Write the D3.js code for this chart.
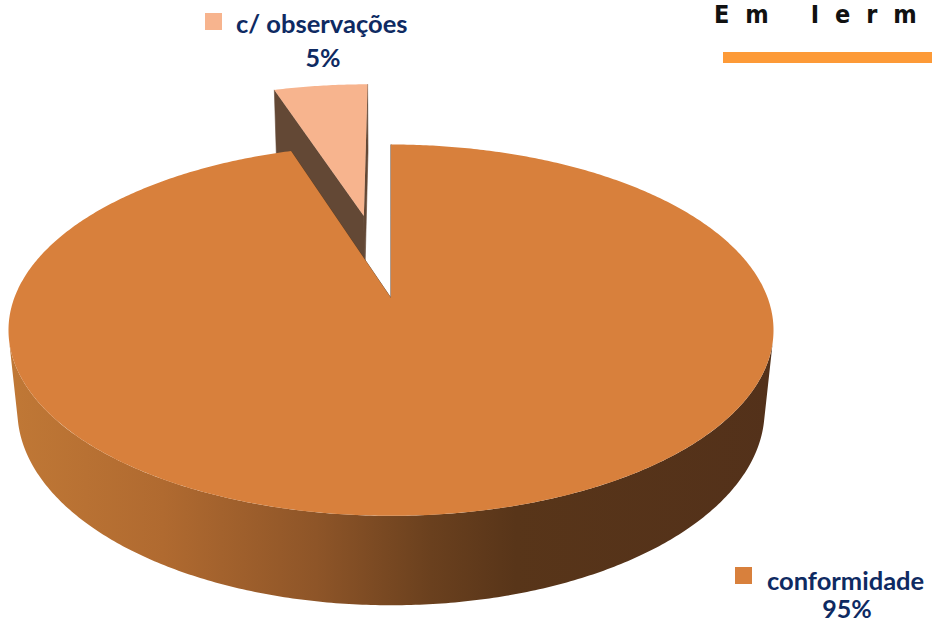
<!DOCTYPE html>
<html>
<head>
<meta charset="utf-8">
<script src="https://cdn.jsdelivr.net/npm/d3@7"></script>
<style>
  html, body { margin: 0; padding: 0; background: #ffffff; }
  svg { display: block; }
</style>
</head>
<body>
<svg id="chart" width="932" height="623"></svg>
<script>
// Share of results
const categories = ["conformidade", "c/ observações"];
const values = [95, 5];
const valueLabels = ["95%", "5%"];

// Per-slice styling
const topColors = ["#D8803C", "#F7B48E"];
const faceColors = ["#5E3A1E", "#634835"];
const explode = [0, 0.5];

const W = 932, H = 623;
const svg = d3.select("#chart");

// Simple perspective camera looking down on a disc of radius 1
const cam = { f: 1910, d: 5.07, sinA: 0.478, cx: 391, cy: 298 };
cam.cosA = Math.sqrt(1 - cam.sinA * cam.sinA);
const thickness = 0.245;

function project(X, Y, Z) {
  const yc = Y * cam.cosA - Z * cam.sinA;
  const zc = cam.d - (Y * cam.sinA + Z * cam.cosA);
  return [cam.cx + cam.f * X / zc, cam.cy - cam.f * yc / zc];
}

// angle 0 = far side of the disc, increasing clockwise as seen from above
function rim(a, r, off, Y) {
  return project(off[0] + r * Math.sin(a), Y, off[1] - r * Math.cos(a));
}

function arcPoints(a0, a1, off, Y) {
  const n = Math.max(2, Math.ceil(Math.abs(a1 - a0) / 0.01));
  return d3.range(n + 1).map(i => rim(a0 + (a1 - a0) * i / n, 1, off, Y));
}

const pie = d3.pie().sort(null).value(d => d)(values);
const line = d3.line();

// The outer wall faces the camera for this range of angles
const visLimit = Math.acos(-1 / (cam.d * cam.cosA));
const vis0 = visLimit, vis1 = 2 * Math.PI - visLimit;

// Horizontal shading of the outer wall
const defs = svg.append("defs");
const grad = defs.append("linearGradient")
  .attr("id", "wall").attr("gradientUnits", "userSpaceOnUse")
  .attr("x1", 10).attr("x2", 776).attr("y1", 0).attr("y2", 0);
[["0%", "#C07836"], ["20%", "#B06A30"], ["40%", "#8E5528"], ["55%", "#6A401E"],
 ["66%", "#583519"], ["100%", "#53311A"]].forEach(([o, c]) =>
  grad.append("stop").attr("offset", o).attr("stop-color", c));

const slices = pie.map((p, i) => {
  const mid = (p.startAngle + p.endAngle) / 2;
  return {
    p, i,
    off: [explode[i] * Math.sin(mid), -explode[i] * Math.cos(mid)]
  };
});

// Draw the exploded (farther) slice first, then the main one
const order = slices.slice().sort((a, b) => b.i - a.i);
const g = svg.append("g");

order.forEach(s => {
  const { p, i, off } = s;
  const gs = g.append("g");
  const apexTop = project(off[0], 0, off[1]);
  const apexBot = project(off[0], -thickness, off[1]);

  // radial cut faces
  [p.startAngle, p.endAngle].forEach(a => {
    const t = rim(a, 1, off, 0), b = rim(a, 1, off, -thickness);
    gs.append("path")
      .attr("d", line([apexTop, t, b, apexBot]) + "Z")
      .attr("fill", faceColors[i])
      .attr("stroke", faceColors[i]).attr("stroke-width", 0.6);
  });

  // outer wall (visible part only)
  const w0 = Math.max(p.startAngle, vis0), w1 = Math.min(p.endAngle, vis1);
  if (w1 > w0) {
    const topArc = arcPoints(w0, w1, off, 0);
    const botArc = arcPoints(w0, w1, off, -thickness).reverse();
    gs.append("path")
      .attr("d", line(topArc.concat(botArc)) + "Z")
      .attr("fill", "url(#wall)");
  }

  // top face
  const topPts = [apexTop].concat(arcPoints(p.startAngle, p.endAngle, off, 0));
  gs.append("path")
    .attr("d", line(topPts) + "Z")
    .attr("fill", topColors[i]);
});

// Labels with colour keys
const labelPos = [
  { key: [735, 567], text: [767, 590], pct: [847, 618] },
  { key: [205, 13], text: [236, 33], pct: [323, 67] }
];
const font = "Lato, 'Open Sans', sans-serif";
categories.forEach((c, i) => {
  const lp = labelPos[i];
  svg.append("rect").attr("x", lp.key[0]).attr("y", lp.key[1])
    .attr("width", 17).attr("height", 17).attr("fill", topColors[i]);
  svg.append("text").attr("x", lp.text[0]).attr("y", lp.text[1])
    .attr("font-family", font).attr("font-weight", 700).attr("font-size", 25.5)
    .attr("fill", "#0E2A62").text(c);
  svg.append("text").attr("x", lp.pct[0]).attr("y", lp.pct[1])
    .attr("text-anchor", "middle")
    .attr("font-family", font).attr("font-weight", 700).attr("font-size", 25)
    .attr("fill", "#0E2A62").text(valueLabels[i]);
});

// Heading in the top-right corner
svg.append("text").attr("x", 714).attr("y", 23)
  .attr("font-family", "'DejaVu Sans Condensed', 'DejaVu Sans', sans-serif")
  .attr("font-weight", 700).attr("font-size", 25)
  .attr("letter-spacing", 16).attr("word-spacing", 2)
  .attr("fill", "#111111").text("Em Ierm");
svg.append("rect").attr("x", 723).attr("y", 52).attr("width", 209).attr("height", 11)
  .attr("fill", "#FD9A37");
</script>
</body>
</html>
